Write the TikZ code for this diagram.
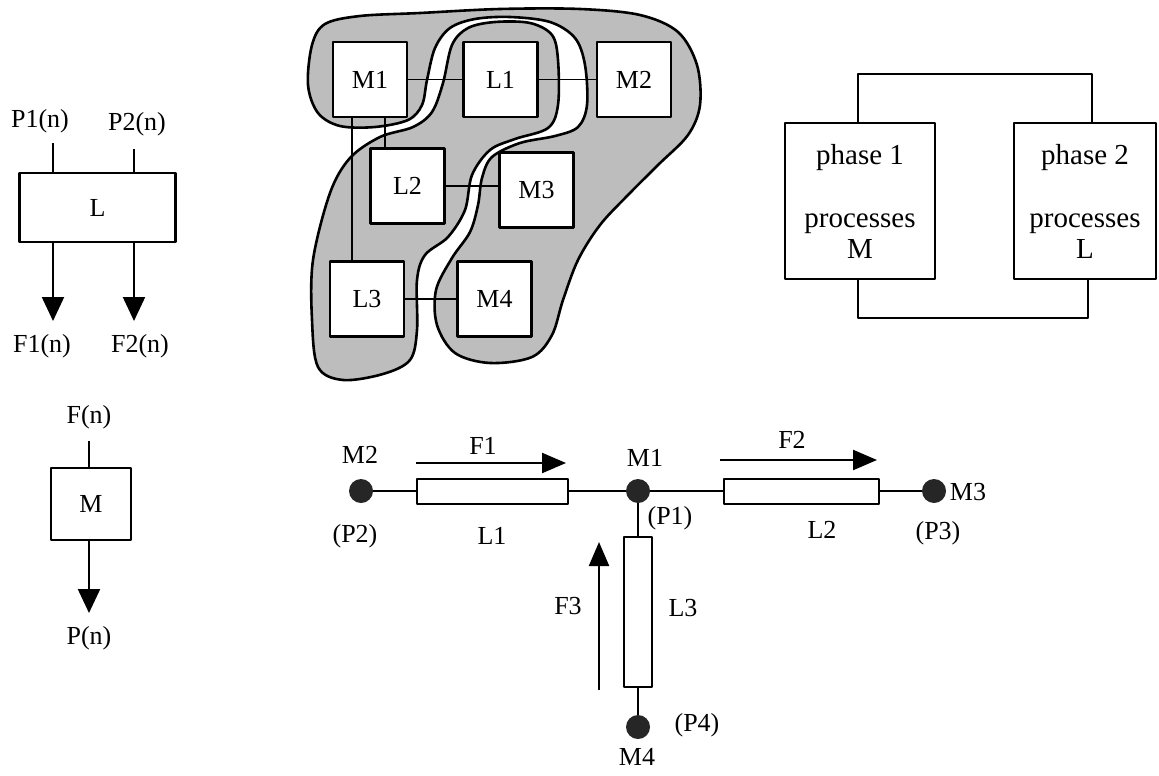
\documentclass[tikz,border=0pt]{standalone}
\usepackage{fontspec}
\setmainfont{Liberation Serif}
\usetikzlibrary{arrows.meta,positioning}

\begin{document}
\begin{tikzpicture}[x=0.5pt,y=-0.5pt,line join=round,
    font=\fontsize{13}{15.5}\selectfont,
    wire/.style={line width=0.9pt},
    blk/.style={draw,line width=1.2pt,inner sep=0pt},
    cell/.style={blk,fill=white,minimum width=37pt,minimum height=37.5pt},
    zone/.style={draw,line width=1.3pt,fill=black!26},
    drop/.style={line width=1.1pt,-{Triangle[length=12pt,width=11pt]}},
    flow/.style={line width=1.1pt,-{Triangle[length=12pt,width=10pt]}},
    site/.style={circle,fill=black!85,inner sep=0pt,minimum size=12pt},
    rod/.style={draw,line width=1pt,inner sep=0pt},
    phase/.style={blk,align=center,minimum width=75pt,minimum height=78pt,
      font=\fontsize{14.5}{15.5}\selectfont}]

  \useasboundingbox (0,0) rectangle (1159,775);

  % process L
  \node[blk,minimum width=78pt,minimum height=34.5pt] (Lblk) at (97.5,207.5) {L};
  \node (p1lbl) at (40,121) {P1(n)};
  \node (p2lbl) at (137,124) {P2(n)};
  \node (f1lbl) at (42,346) {F1(n)};
  \node (f2lbl) at (140,346) {F2(n)};
  \coordinate (p1in) at (53,143);
  \coordinate (p2in) at (134,149);
  \coordinate (f1out) at (53,321);
  \coordinate (f2out) at (134,321);
  \draw[wire] (p1in) -- (p1in |- Lblk.north);
  \draw[wire] (p2in) -- (p2in |- Lblk.north);
  \draw[drop] (f1out |- Lblk.south) -- (f1out);
  \draw[drop] (f2out |- Lblk.south) -- (f2out);

  % process M
  \node[blk,minimum width=40pt,minimum height=36pt] (Mblk) at (91,504) {M};
  \node (fnlbl) at (89,417) {F(n)};
  \node (pnlbl) at (89,638) {P(n)};
  \coordinate (fnin) at (89,441);
  \coordinate (pnout) at (89,613);
  \draw[wire] (fnin) -- (fnin |- Mblk.north);
  \draw[drop] (pnout |- Mblk.south) -- (pnout);

  % partition of the network
  \draw[zone] plot[smooth cycle,tension=0.55] coordinates {
    (312,45) (325,24) (360,16) (420,13) (500,9) (580,9) (640,15)
    (678,32) (697,65) (700,105) (688,135) (658,165) (628,195)
    (600,225) (578,260) (563,300) (552,335) (532,357) (490,363)
    (455,353) (437,325) (436,290) (452,258) (470,232) (478,205)
    (482,178) (492,157) (520,143) (555,136) (578,127) (587,105)
    (585,65) (575,38) (550,22) (510,17) (475,19) (450,28) (435,48)
    (427,80) (422,105) (408,120) (375,127) (340,126) (318,113) (308,85)};
  \draw[zone] plot[smooth cycle,tension=0.55] coordinates {
    (330,193) (350,158) (380,137) (413,127) (432,112) (443,83)
    (452,45) (468,28) (495,22) (530,23) (552,35) (558,60) (558,105)
    (548,128) (515,139) (490,150) (472,175) (465,210) (448,237)
    (425,255) (417,280) (417,330) (410,360) (383,374) (343,380)
    (318,367) (312,320) (313,260)};

  \node[cell] (bM1) at (370,79.5) {M1};
  \node[cell] (bL1) at (500.5,79.5) {L1};
  \node[cell] (bM2) at (634,79.5) {M2};
  \node[cell] (bL2) at (407.5,186) {L2};
  \node[cell] (bM3) at (536.5,190) {M3};
  \node[cell] (bL3) at (367,299) {L3};
  \node[cell] (bM4) at (494.5,299) {M4};
  \draw[wire] (bM1) -- (bL1);
  \draw[wire] (bL1) -- (bM2);
  \draw[wire] (bL2.east) -- (bL2.east -| bM3.west);
  \draw[wire] (bL3) -- (bM4);
  \draw[wire] ([xshift=-9pt]bM1.south) -- ([xshift=-9pt]bM1.south |- bL3.north);
  \draw[wire] ([xshift=7.5pt]bM1.south) -- ([xshift=7.5pt]bM1.south |- bL2.north);

  % two phases
  \node[phase] (ph1) at (860,201) {phase 1\\[16pt]processes\\M};
  \node[phase,minimum width=71pt] (ph2) at (1085,201) {phase 2\\[16pt]processes\\L};
  \coordinate (topbar) at (0,74);
  \coordinate (botbar) at (0,318);
  \draw[wire] ([xshift=-1pt]ph1.north) -- ([xshift=-1pt]ph1.north |- topbar)
    -| ([xshift=3.5pt]ph2.north);
  \draw[wire] ([xshift=-1pt]ph1.south) -- ([xshift=-1pt]ph1.south |- botbar)
    -| ([xshift=1.5pt]ph2.south);

  % line network
  \node[site] (m2) at (361,491) {};
  \node[rod,minimum width=75.5pt,minimum height=12.5pt] (l1) at (492.5,491) {};
  \node[site] (m1) at (638,491) {};
  \node[rod,minimum width=77.5pt,minimum height=12.5pt] (l2) at (801.5,491) {};
  \node[site] (m3) at (934,491) {};
  \node[rod,minimum width=14pt,minimum height=75pt] (l3) at (638,612) {};
  \node[site] (m4) at (638,727) {};
  \draw[wire] (m2) -- (l1) -- (m1) -- (l2) -- (m3);
  \draw[wire] (m1) -- (l3) -- (m4);

  \node (m2lbl) at (360,455) {M2};
  \node (m1lbl) at (645,458) {M1};
  \node (m3lbl) at (968,492) {M3};
  \node (m4lbl) at (637,757) {M4};
  \node (p2lbl2) at (355,536) {(P2)};
  \node (p1lbl2) at (670,518) {(P1)};
  \node (p3lbl2) at (938,533) {(P3)};
  \node (p4lbl2) at (697,725) {(P4)};
  \node (l1lbl) at (492,536) {L1};
  \node (l2lbl) at (822,530) {L2};
  \node (l3lbl) at (683,608) {L3};

  \coordinate (f1a) at (416,463);
  \coordinate (f1b) at (566,463);
  \coordinate (f2a) at (720,460);
  \coordinate (f2b) at (877,460);
  \coordinate (f3a) at (599,690);
  \coordinate (f3b) at (599,542);
  \draw[flow] (f1a) -- (f1b);
  \draw[flow] (f2a) -- (f2b);
  \draw[flow] (f3a) -- (f3b);
  \node (f1lbl2) at (483,446) {F1};
  \node (f2lbl2) at (792,440) {F2};
  \node (f3lbl2) at (568,606) {F3};
\end{tikzpicture}
\end{document}
